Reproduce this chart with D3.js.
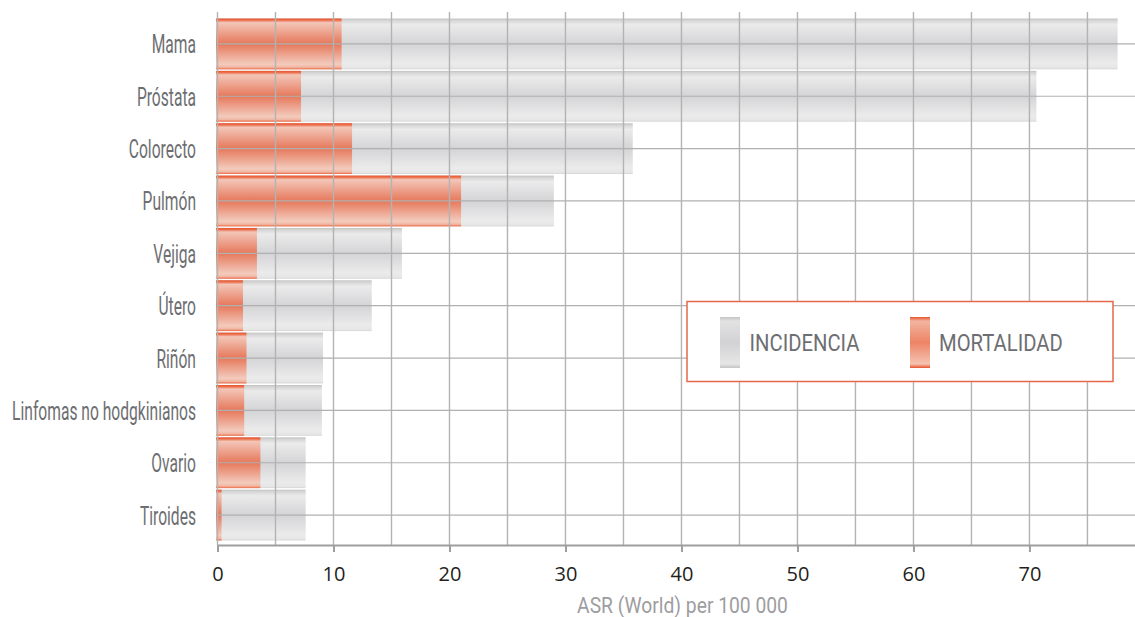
<!DOCTYPE html>
<html>
<head>
<meta charset="utf-8">
<script src="https://cdn.jsdelivr.net/npm/d3@7"></script>
<style>
  html, body { margin: 0; padding: 0; background: #fff; }
  svg { display: block; }
</style>
</head>
<body>
<svg id="chart" width="1135" height="617"></svg>
<script>
// Cancer sites, incidence and mortality (ASR World per 100 000)
const categories = ["Mama", "Próstata", "Colorecto", "Pulmón", "Vejiga", "Útero", "Riñón",
  "Linfomas no hodgkinianos", "Ovario", "Tiroides"];
const incidence = [77.6, 70.6, 35.8, 29.0, 15.9, 13.3, 9.1, 9.0, 7.6, 7.6];
const mortality = [10.7, 7.2, 11.6, 21.0, 3.4, 2.2, 2.5, 2.3, 3.7, 0.35];
const xTicks = [0, 10, 20, 30, 40, 50, 60, 70];
const gridValues = d3.range(0, 80, 5);
const seriesNames = ["INCIDENCIA", "MORTALIDAD"];
const axisTitle = "ASR (World) per 100 000";

const svg = d3.select("#chart");
const plotLeft = 217.5, plotRight = 1135, plotTop = 12, plotBottom = 545;
const condensedFont = "Roboto, 'Liberation Sans', sans-serif";

const x = d3.scaleLinear().domain([0, 79.1]).range([plotLeft, plotRight]);
const y = d3.scaleBand().domain(categories).range([18, 541]).paddingInner(0.03).paddingOuter(0.01);

// Horizontal squeeze so that a reference string spans the given width
function squeezeFactor(str, size, width) {
  const t = svg.append("text").style("font-family", condensedFont).style("font-size", size + "px").text(str);
  const w = t.node().getComputedTextLength();
  t.remove();
  return width / w;
}

// Gradients
const defs = svg.append("defs");
function grad(id, stops) {
  const g = defs.append("linearGradient").attr("id", id)
    .attr("x1", 0).attr("y1", 0).attr("x2", 0).attr("y2", 1);
  stops.forEach(([o, c]) => g.append("stop").attr("offset", o).attr("stop-color", c));
}
grad("gIncid", [[0, "#c2c2c3"], [0.04, "#d6d6d7"], [0.12, "#ebebec"], [0.5, "#d4d4d6"],
  [0.88, "#ebebec"], [0.97, "#e6e6e7"], [1, "#d4d4d5"]]);
grad("gMort", [[0, "#e9552d"], [0.03, "#ec6a47"], [0.08, "#f3c6b8"], [0.5, "#e6785b"],
  [0.9, "#f3cbbd"], [0.96, "#f1b6a3"], [1, "#ee6840"]]);
grad("gLegIncid", [[0, "#c4c4c5"], [0.08, "#e2e2e3"], [0.5, "#d2d2d4"], [0.92, "#e6e6e7"], [1, "#c4c4c5"]]);
grad("gLegMort", [[0, "#e8542c"], [0.08, "#f2b4a0"], [0.5, "#ee8466"], [0.92, "#f4c3b2"], [1, "#e8542c"]]);

// Bars
const bars = svg.append("g");
bars.selectAll("rect.inc").data(categories).join("rect")
  .attr("class", "inc")
  .attr("x", x(0)).attr("y", d => y(d))
  .attr("width", (d, i) => x(incidence[i]) - x(0))
  .attr("height", y.bandwidth())
  .attr("fill", "url(#gIncid)");
bars.selectAll("rect.mor").data(categories).join("rect")
  .attr("class", "mor")
  .attr("x", x(0) - 1.5).attr("y", d => y(d))
  .attr("width", (d, i) => x(mortality[i]) - x(0) + 1.5)
  .attr("height", y.bandwidth())
  .attr("fill", "url(#gMort)");

// Grid drawn over the bars
const grid = svg.append("g");
grid.selectAll("line.v").data(gridValues).join("line")
  .attr("class", "v")
  .attr("x1", d => x(d)).attr("x2", d => x(d))
  .attr("y1", plotTop).attr("y2", plotBottom)
  .attr("stroke", "#b3b3b3").attr("stroke-width", 1.4);
grid.selectAll("line.h").data(categories).join("line")
  .attr("class", "h")
  .attr("x1", x(0)).attr("x2", plotRight)
  .attr("y1", d => y(d) + y.bandwidth() / 2).attr("y2", d => y(d) + y.bandwidth() / 2)
  .attr("stroke", "#b0b0b0").attr("stroke-width", 1.2);

// X axis
const xAxis = d3.axisBottom(x).tickValues(xTicks).tickSize(7).tickPadding(15).tickFormat(d3.format("d"));
const ax = svg.append("g").attr("transform", `translate(0,${plotBottom})`).call(xAxis);
ax.select(".domain").attr("stroke", "#9e9e9e").attr("stroke-width", 2.2)
  .attr("d", `M${plotLeft},0.5H${plotRight}`);
ax.selectAll(".tick line").attr("stroke", "#9e9e9e").attr("stroke-width", 2);
ax.selectAll(".tick text").attr("fill", "#231f20")
  .style("font-family", "'Open Sans', 'DejaVu Sans', sans-serif").style("font-size", "20px");

const titleSize = 22.5;
const titleK = squeezeFactor(axisTitle, titleSize, 211);
svg.append("text")
  .attr("transform", `translate(682.5,612.5) scale(${titleK},1)`)
  .attr("text-anchor", "middle")
  .attr("fill", "#9d9d9f")
  .style("font-family", condensedFont)
  .style("font-size", titleSize + "px")
  .text(axisTitle);

// Category labels
const labelSize = 26.5;
const labelK = squeezeFactor("Linfomas no hodgkinianos", labelSize, 184);
svg.append("g").selectAll("text").data(categories).join("text")
  .attr("transform", d => `translate(196,${y(d) + y.bandwidth() / 2 + 9.5}) scale(${labelK},1)`)
  .attr("text-anchor", "end")
  .attr("fill", "#6d6e71")
  .style("font-family", condensedFont)
  .style("font-size", labelSize + "px")
  .text(d => d);

// Legend
const legSize = 24.5;
const legK = squeezeFactor(seriesNames[0], legSize, 110);
const leg = svg.append("g");
leg.append("rect").attr("x", 687).attr("y", 301.5).attr("width", 426).attr("height", 80)
  .attr("fill", "#fff").attr("stroke", "#e8674a").attr("stroke-width", 1.5);
const legItems = [
  { name: seriesNames[0], fill: "url(#gLegIncid)", sx: 720, tx: 749.5 },
  { name: seriesNames[1], fill: "url(#gLegMort)", sx: 910, tx: 939 }
];
legItems.forEach(it => {
  leg.append("rect").attr("x", it.sx).attr("y", 317).attr("width", 20).attr("height", 51)
    .attr("fill", it.fill);
  leg.append("text").attr("transform", `translate(${it.tx},351) scale(${legK},1)`)
    .attr("fill", "#6d6e71")
    .style("font-family", condensedFont)
    .style("font-size", legSize + "px")
    .text(it.name);
});
</script>
</body>
</html>
